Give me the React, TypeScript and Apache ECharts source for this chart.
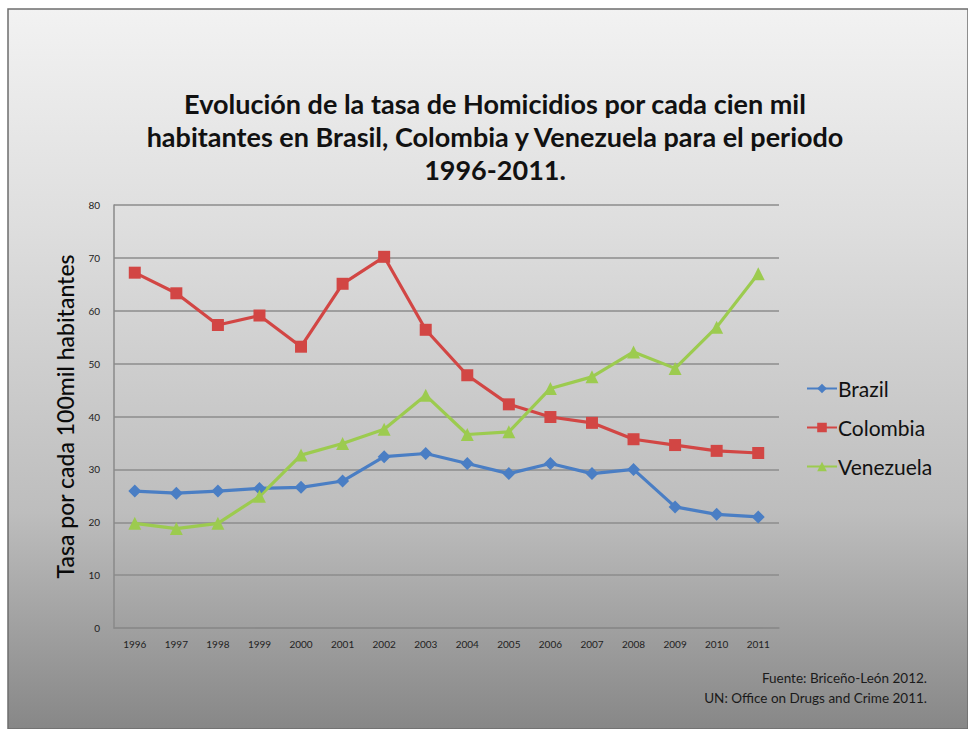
import React, { useEffect, useRef } from "react";
import * as echarts from "echarts";

const years = ["1996","1997","1998","1999","2000","2001","2002","2003","2004","2005","2006","2007","2008","2009","2010","2011"];
const brazil = [25.9, 25.5, 25.9, 26.4, 26.6, 27.8, 32.4, 33.0, 31.1, 29.2, 31.1, 29.2, 30.0, 22.9, 21.5, 21.0];
const colombia = [67.2, 63.3, 57.3, 59.1, 53.2, 65.1, 70.2, 56.4, 47.8, 42.3, 39.9, 38.8, 35.7, 34.6, 33.5, 33.1];
const venezuela = [19.8, 18.8, 19.8, 24.9, 32.7, 34.9, 37.6, 44.0, 36.6, 37.1, 45.3, 47.5, 52.2, 49.1, 56.9, 67.0];
const titleText = "Evolución de la tasa de Homicidios por cada cien mil\nhabitantes en Brasil, Colombia y Venezuela para el periodo\n1996-2011.";
const yAxisName = "Tasa por cada 100mil habitantes";
const sourceLines = ["Fuente: Briceño-León 2012.", "UN: Office on Drugs and Crime 2011."];

const FONT = "Lato, 'Open Sans', sans-serif";

export default function App() {
  const ref = useRef<HTMLDivElement>(null);
  useEffect(() => {
    document.body.style.margin = "0";
    const chart = echarts.init(ref.current!, null, { renderer: "svg" });
    const mk = (name: string, data: number[], color: string, symbol: string, size: number) => ({
      name,
      type: "line",
      data,
      symbol,
      symbolSize: size,
      itemStyle: { color },
      lineStyle: { color, width: 3.2 },
      emphasis: { disabled: true },
    });
    chart.setOption({
      animation: false,
      textStyle: { fontFamily: FONT },
      graphic: [
        {
          type: "rect",
          z: -10,
          silent: true,
          shape: { x: 8, y: 9, width: 960, height: 720 },
          style: {
            fill: new echarts.graphic.LinearGradient(0, 0, 0, 1, [
              { offset: 0, color: "#f2f2f2" },
              { offset: 0.3, color: "#dedede" },
              { offset: 0.7, color: "#bdbdbd" },
              { offset: 1, color: "#878787" },
            ]),
            stroke: "#6e6e6e",
            lineWidth: 1.5,
          },
        },
        {
          type: "text",
          x: 927,
          y: 668,
          silent: true,
          style: {
            text: sourceLines.join("\n"),
            align: "right",
            verticalAlign: "top",
            font: `13.5px ${FONT}`,
            fill: "#1a1a1a",
            lineHeight: 20,
          },
        },
      ],
      title: {
        text: titleText,
        left: 490,
        textAlign: "center",
        top: 82,
        textStyle: {
          fontFamily: FONT,
          fontSize: 27,
          fontWeight: "bold",
          color: "#111",
          lineHeight: 33,
        },
      },
      legend: {
        orient: "vertical",
        left: 801,
        top: 373,
        itemGap: 18,
        itemWidth: 30,
        itemHeight: 12,
        textStyle: { fontFamily: FONT, fontSize: 21, color: "#111", padding: [0, 0, 0, -4] },
        data: ["Brazil", "Colombia", "Venezuela"],
      },
      grid: { left: 114, right: 189, top: 205, bottom: 101 },
      xAxis: {
        type: "category",
        data: years,
        boundaryGap: true,
        axisLine: { lineStyle: { color: "#8a8a8a", width: 1.5 } },
        axisTick: { show: false },
        axisLabel: { fontFamily: FONT, fontSize: 10, color: "#222", margin: 11 },
      },
      yAxis: {
        type: "value",
        min: 0,
        max: 80,
        interval: 10,
        name: yAxisName,
        nameLocation: "middle",
        nameGap: 38,
        nameTextStyle: { fontFamily: FONT, fontSize: 23, color: "#0a0a0a", fontWeight: 500 },
        axisLine: { show: true, lineStyle: { color: "#8a8a8a", width: 1.5 } },
        axisTick: { show: false },
        axisLabel: { fontFamily: FONT, fontSize: 10, color: "#222", margin: 14 },
        splitLine: { lineStyle: { color: "#8c8c8c", width: 1.5 } },
      },
      series: [
        mk("Brazil", brazil, "#4a7ec4", "diamond", 13),
        mk("Colombia", colombia, "#d24644", "rect", 12),
        mk("Venezuela", venezuela, "#9ccb4f", "triangle", 13),
      ],
    });
    return () => chart.dispose();
  }, []);
  return <div ref={ref} style={{ width: 968, height: 729 }} />;
}
